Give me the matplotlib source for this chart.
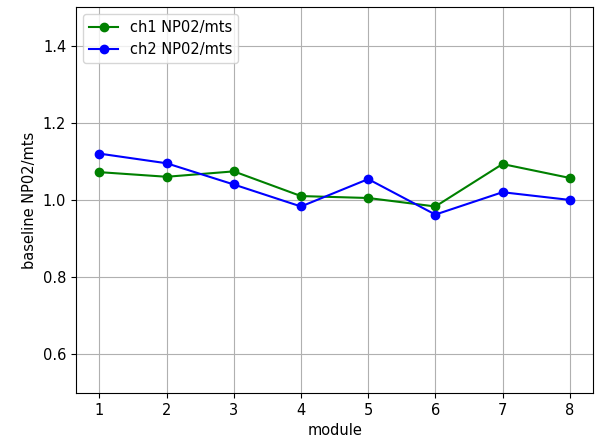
import matplotlib

matplotlib.use("Agg")
import matplotlib.pyplot as plt

modules = [1, 2, 3, 4, 5, 6, 7, 8]
ch1 = [1.072, 1.060, 1.074, 1.010, 1.005, 0.983, 1.093, 1.057]
ch2 = [1.120, 1.095, 1.040, 0.983, 1.054, 0.962, 1.020, 1.000]

plt.rcParams["font.size"] = 10.5

fig, ax = plt.subplots(figsize=(5.98, 4.37), dpi=100)
fig.subplots_adjust(left=0.127, right=0.992, top=0.984, bottom=0.101)

ax.plot(modules, ch1, color="green", marker="o", label="ch1 NP02/mts")
ax.plot(modules, ch2, color="blue", marker="o", label="ch2 NP02/mts")
ax.set_ylim(0.5, 1.5)
ax.set_yticks([0.6, 0.8, 1.0, 1.2, 1.4])
ax.set_xticks(modules)
ax.set_xlabel("module")
ax.set_ylabel("baseline NP02/mts")
ax.grid(True)
ax.legend(loc="upper left")

fig.savefig("out.png", dpi=100)
